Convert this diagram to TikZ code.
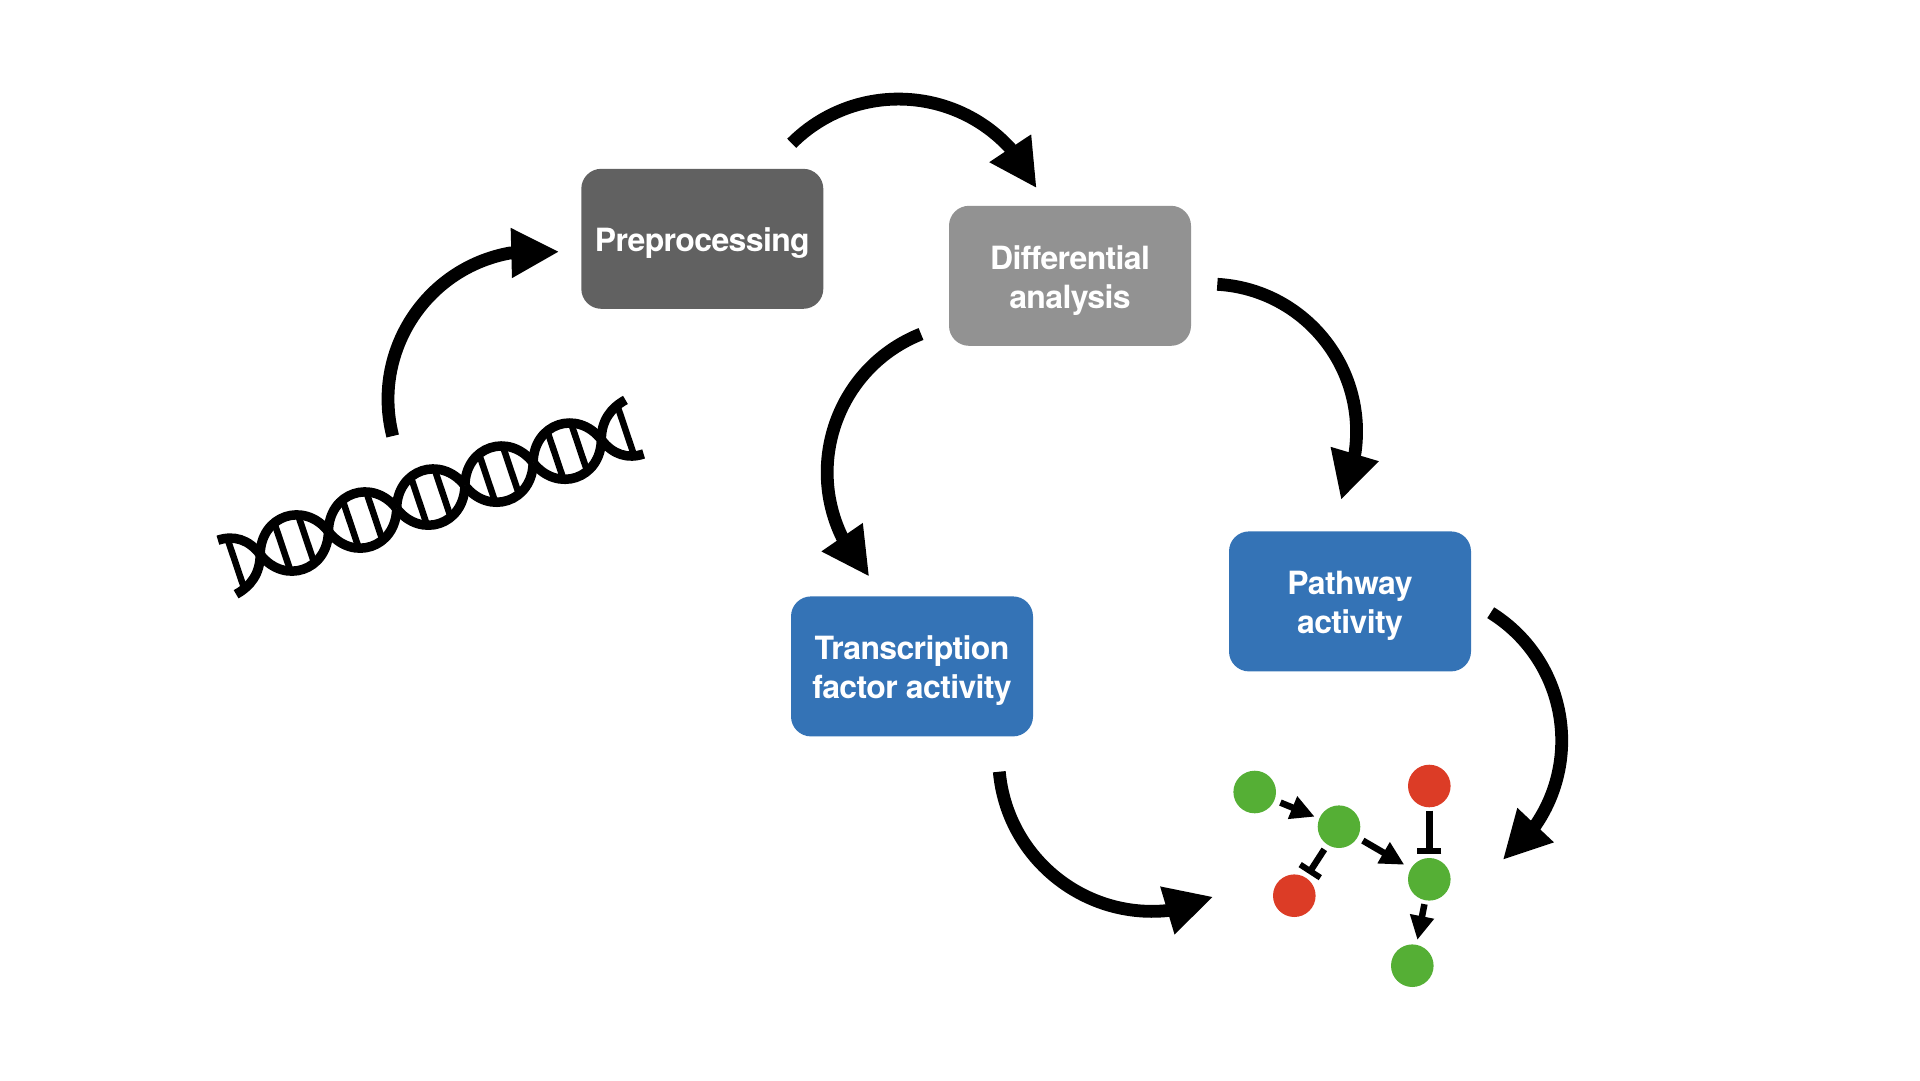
\documentclass[tikz,border=0pt]{standalone}
\usepackage{fontspec}
\setmainfont[LetterSpace=-2]{TeX Gyre Heros}
\usetikzlibrary{arrows.meta}
\definecolor{darkbox}{HTML}{616161}
\definecolor{lightbox}{HTML}{929292}
\definecolor{bluebox}{HTML}{3473B6}
\definecolor{okgreen}{HTML}{55AF35}
\definecolor{badred}{HTML}{DC3C26}
\newcommand{\topstrut}{\rule{0pt}{33pt}}
\tikzset{
  procbox/.style={rounded corners=20pt,minimum width=242pt,minimum height=140pt,inner sep=0pt,
    align=center,text=white,font=\fontsize{32pt}{39pt}\selectfont\bfseries},
  bigarrow/.style={line width=12.8pt,draw=black,-{Triangle[length=48pt,width=46.5pt]}},
  ball/.style={circle,minimum size=42.6pt,inner sep=0pt,outer sep=0pt},
  smallarrow/.style={line width=6.5pt,draw=black,-{Triangle[length=24pt,width=23pt]}},
  inhibit/.style={line width=6.5pt,draw=black,-{Bar[width=24pt,line width=6pt]}},
  strand/.style={line width=9.5pt,draw=black},
  rung/.style={line width=6.5pt,draw=black},
}
\begin{document}
\begin{tikzpicture}[x=1pt,y=-1pt]
\useasboundingbox (0,0) rectangle (1920,1080);

% process boxes
\node[procbox,fill=darkbox] (pre) at (702.3,238.8) {\topstrut Preprocessing};
\node[procbox,fill=lightbox] (diff) at (1070,275.8) {\topstrut Differential\\analysis};
\node[procbox,fill=bluebox] (path) at (1350,601.4) {\topstrut Pathway\\activity};
\node[procbox,fill=bluebox] (tf) at (912,666.4) {\topstrut Transcription\\factor activity};

% free ends of the big arrows: start, head base, head tip
\coordinate (a1s) at (392.7,436);
\coordinate (a1b) at (510,253);
\coordinate (a1e) at (559.3,251.7);
\coordinate (a2s) at (791.7,143.3);
\coordinate (a2b) at (1010,148);
\coordinate (a2e) at (1036.7,188.3);
\coordinate (a3s) at (1217.3,284.3);
\coordinate (a3b) at (1355,453);
\coordinate (a3e) at (1341,500);
\coordinate (a4s) at (921,334);
\coordinate (a4b) at (842,537);
\coordinate (a4e) at (869.3,576.7);
\coordinate (a5s) at (999.3,771.7);
\coordinate (a5b) at (1167,910.6);
\coordinate (a5e) at (1213.3,896.7);
\coordinate (a6s) at (1490.7,612.7);
\coordinate (a6b) at (1535.7,825);
\coordinate (a6e) at (1502.7,860);

\draw[bigarrow] (a1s) .. controls (371.3,352.6) and (425.3,268.4) .. (a1b) -- (a1e);
\draw[bigarrow] (a2s) .. controls (852.5,82.5) and (951.8,84.7) .. (a2b) -- (a2e);
\draw[bigarrow] (a3s) .. controls (1303.8,289.2) and (1367.5,367.3) .. (a3b) -- (a3e);
\draw[bigarrow] (a4s) .. controls (840.8,365.9) and (804.5,459.3) .. (a4b) -- (a4e);
\draw[bigarrow] (a5s) .. controls (1006.9,856.4) and (1082.4,918.9) .. (a5b) -- (a5e);
\draw[bigarrow] (a6s) .. controls (1563.3,657.8) and (1583.7,754.4) .. (a6b) -- (a6e);

% small network
\node[ball,fill=okgreen] (g1) at (1254.7,792) {};
\node[ball,fill=okgreen] (g2) at (1339,826.7) {};
\node[ball,fill=badred] (r1) at (1294.3,895.7) {};
\node[ball,fill=badred] (r2) at (1429.3,786) {};
\node[ball,fill=okgreen] (g3) at (1429.3,879.3) {};
\node[ball,fill=okgreen] (g4) at (1412.3,965.7) {};
\draw[smallarrow,shorten <=6.5pt,shorten >=5pt] (g1) -- (g2);
\draw[smallarrow,shorten <=6.3pt,shorten >=7.6pt] (g2) -- (g3);
\draw[smallarrow,shorten <=4pt,shorten >=5pt] (g3) -- (g4);
\draw[inhibit,shorten <=5.7pt,shorten >=5pt] (g2) -- (r1);
\draw[inhibit,shorten <=3.4pt,shorten >=4pt] (r2) -- (g3);

% DNA helix
\begin{scope}[shift={(294.3,543)},rotate=18.6]
  \foreach \c [evaluate=\c as \l using \c-36, evaluate=\c as \r using \c+36,
               evaluate=\c as \p using \c-23, evaluate=\c as \q using \c+23,
               evaluate=\c as \ra using \c-12.5, evaluate=\c as \rb using \c+12.5] in {0,72,144,216,288}{
    \draw[strand] (\l,0) .. controls (\p,-37) and (\q,-37) .. (\r,0);
    \draw[strand] (\l,0) .. controls (\p,37) and (\q,37) .. (\r,0);
    \draw[rung] (\ra,-24) -- (\ra,24);
    \draw[rung] (\rb,-24) -- (\rb,24);
  }
  \draw[strand] (-71.5,-27) .. controls (-55,-27) and (-42,-18) .. (-36,0);
  \draw[strand] (-71.5,30) .. controls (-55,27) and (-42,18) .. (-36,0);
  \draw[strand] (359.5,-30) .. controls (343,-27) and (330,-18) .. (324,0);
  \draw[strand] (359.5,27) .. controls (343,27) and (330,18) .. (324,0);
  \draw[rung] (-62,-24) -- (-62,24);
  \draw[rung] (350,-24) -- (350,24);
\end{scope}
\end{tikzpicture}
\end{document}
